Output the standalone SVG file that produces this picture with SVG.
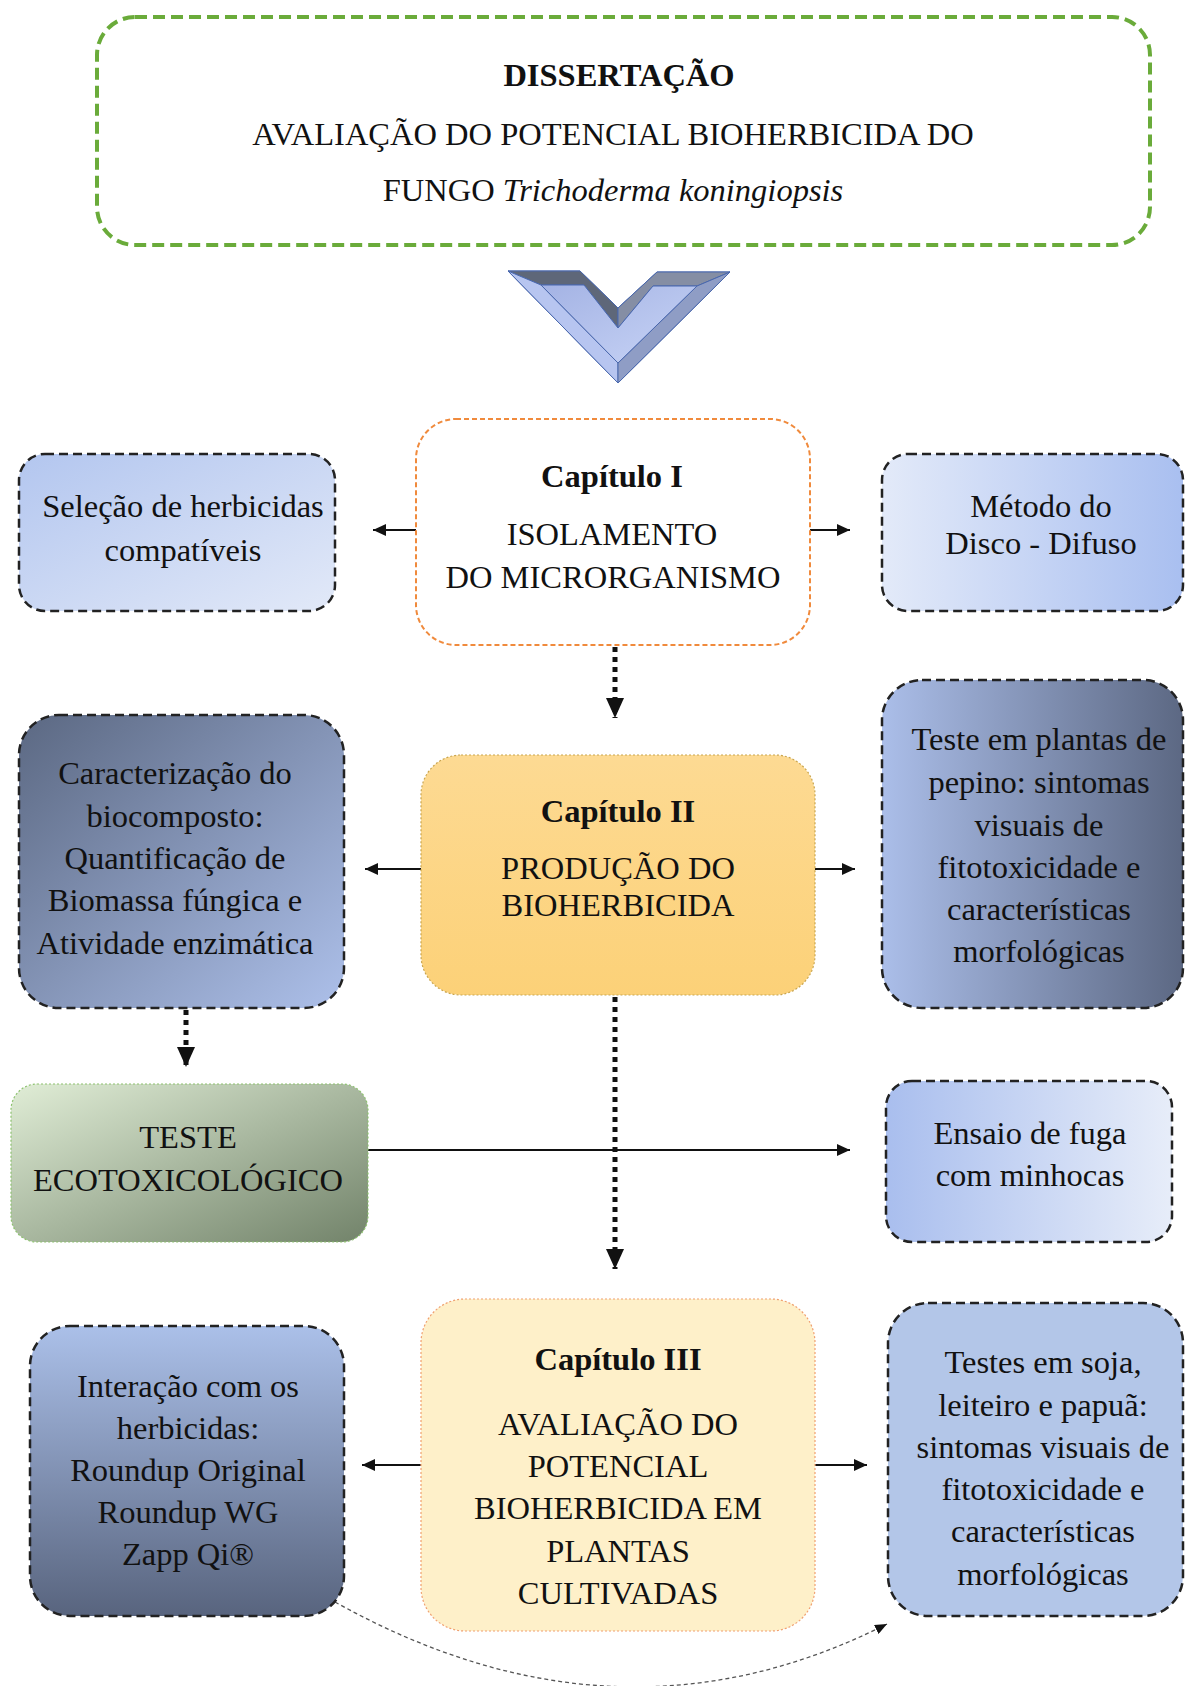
<svg xmlns="http://www.w3.org/2000/svg" width="1185" height="1686" viewBox="0 0 1185 1686">
<style>
text{font-family:"Liberation Serif","Times New Roman",serif;font-size:32.5px;fill:#111;text-anchor:middle}
.b{font-weight:bold}
.dash{stroke:#222;stroke-width:2.5;stroke-dasharray:9 5}
.solid{stroke:#111;stroke-width:2;fill:none}
.dot{stroke:#111;stroke-width:5;stroke-dasharray:5 5;fill:none}
</style>
<defs>
<linearGradient id="gSel" x1="0" y1="0" x2="1" y2="1"><stop offset="0" stop-color="#b3c6ef"/><stop offset="1" stop-color="#e2e9f8"/></linearGradient>
<linearGradient id="gMet" x1="0" y1="0" x2="1" y2="0"><stop offset="0" stop-color="#e3eaf9"/><stop offset="1" stop-color="#a9bff0"/></linearGradient>
<linearGradient id="gCar" x1="0" y1="0" x2="1" y2="1"><stop offset="0" stop-color="#5b6882"/><stop offset="1" stop-color="#adc0ea"/></linearGradient>
<linearGradient id="gPep" x1="0" y1="0" x2="1" y2="0"><stop offset="0" stop-color="#abbee9"/><stop offset="1" stop-color="#5c6883"/></linearGradient>
<linearGradient id="gCap2" x1="0" y1="0" x2="0" y2="1"><stop offset="0" stop-color="#fdda93"/><stop offset="1" stop-color="#fcd178"/></linearGradient>
<linearGradient id="gEco" x1="0" y1="0" x2="1" y2="1"><stop offset="0" stop-color="#e0edd6"/><stop offset="1" stop-color="#72836a"/></linearGradient>
<linearGradient id="gEns" x1="0" y1="0" x2="1" y2="0"><stop offset="0" stop-color="#a9beee"/><stop offset="1" stop-color="#e7edf9"/></linearGradient>
<linearGradient id="gInt" x1="0" y1="0" x2="0" y2="1"><stop offset="0" stop-color="#abc0e9"/><stop offset="1" stop-color="#58647e"/></linearGradient>
<linearGradient id="gFace" x1="0" y1="0" x2="1" y2="1"><stop offset="0" stop-color="#a4b3e4"/><stop offset="1" stop-color="#c8d4f6"/></linearGradient>
<marker id="ah" markerUnits="userSpaceOnUse" markerWidth="13" markerHeight="12" refX="13" refY="6" orient="auto"><path d="M0,0 L13,6 L0,12 z" fill="#111"/></marker>
<marker id="ahBig" markerUnits="userSpaceOnUse" markerWidth="20" markerHeight="18" refX="20" refY="9" orient="auto"><path d="M0,0 L20,9 L0,18 z" fill="#111"/></marker>
<marker id="ahSm" markerUnits="userSpaceOnUse" markerWidth="12" markerHeight="10" refX="12" refY="5" orient="auto"><path d="M0,0 L12,5 L0,10 z" fill="#111"/></marker>
</defs>

<g id="connectors">
<line class="solid" x1="416" y1="530" x2="373" y2="530" marker-end="url(#ah)"/>
<line class="solid" x1="810" y1="530" x2="850" y2="530" marker-end="url(#ah)"/>
<line class="dot" x1="615" y1="647" x2="615" y2="718" marker-end="url(#ahBig)"/>
<line class="solid" x1="421" y1="869" x2="365" y2="869" marker-end="url(#ah)"/>
<line class="solid" x1="815" y1="869" x2="855" y2="869" marker-end="url(#ah)"/>
<line class="dot" x1="186" y1="1010" x2="186" y2="1067" marker-end="url(#ahBig)"/>
<line class="solid" x1="368" y1="1150" x2="850" y2="1150" marker-end="url(#ah)"/>
<line class="dot" x1="615" y1="997" x2="615" y2="1269" marker-end="url(#ahBig)"/>
<line class="solid" x1="421" y1="1465" x2="362" y2="1465" marker-end="url(#ah)"/>
<line class="solid" x1="815" y1="1465" x2="867" y2="1465" marker-end="url(#ah)"/>
<path d="M335,1602 Q618,1760 887,1624" fill="none" stroke="#555" stroke-width="1.3" stroke-dasharray="4 3" marker-end="url(#ahSm)"/>
</g>

<g id="dissertacao">
<rect x="97" y="17" width="1053" height="228" rx="38" fill="#fff" stroke="#6aab3a" stroke-width="4" stroke-dasharray="12 6"/>
<text class="b" x="619" y="86">DISSERTAÇÃO</text>
<text x="613" y="145">AVALIAÇÃO DO POTENCIAL BIOHERBICIDA DO</text>
<text x="613" y="201">FUNGO <tspan font-style="italic">Trichoderma koningiopsis</tspan></text>
</g>

<g id="chevron" stroke="#4a68ad" stroke-width="1" stroke-linejoin="round">
<polygon points="508,271 580,271 618,308 657,272 730,272 618,383" fill="#8d9bc6"/>
<polygon points="508,271 580,271 618,308 618,328 584,285 541,285" fill="#5e6779"/>
<polygon points="618,308 657,272 730,272 697,286 653,286 618,328" fill="#858ea4"/>
<polygon points="508,271 541,285 618,363 618,383" fill="#b7c5f0"/>
<polygon points="730,272 697,286 618,363 618,383" fill="#8f9dc5"/>
<polygon points="541,285 584,285 618,328 653,286 697,286 618,363" fill="url(#gFace)"/>
</g>

<g id="cap1">
<rect x="416" y="419" width="394" height="226" rx="40" fill="#fff" stroke="#f08a3c" stroke-width="2" stroke-dasharray="5 3"/>
<text class="b" x="612" y="487">Capítulo I</text>
<text x="612" y="545">ISOLAMENTO</text>
<text x="613" y="588">DO MICRORGANISMO</text>
</g>

<g id="selecao">
<rect x="19" y="454" width="316" height="157" rx="26" fill="url(#gSel)" class="dash"/>
<text x="183" y="517">Seleção de herbicidas</text>
<text x="183" y="561">compatíveis</text>
</g>

<g id="metodo">
<rect x="882" y="454" width="301" height="157" rx="26" fill="url(#gMet)" class="dash"/>
<text x="1041" y="517">Método do</text>
<text x="1041" y="554">Disco - Difuso</text>
</g>

<g id="caracterizacao">
<rect x="19" y="715" width="325" height="293" rx="40" fill="url(#gCar)" class="dash"/>
<text x="175" y="784">Caracterização do</text>
<text x="175" y="827">biocomposto:</text>
<text x="175" y="869">Quantificação de</text>
<text x="175" y="911">Biomassa fúngica e</text>
<text x="175" y="954">Atividade enzimática</text>
</g>

<g id="cap2">
<rect x="421" y="755" width="394" height="240" rx="40" fill="url(#gCap2)" stroke="#c9a54e" stroke-width="1.2" stroke-dasharray="2 2"/>
<text class="b" x="618" y="822">Capítulo II</text>
<text x="618" y="879">PRODUÇÃO DO</text>
<text x="618" y="916">BIOHERBICIDA</text>
</g>

<g id="pepino">
<rect x="882" y="680" width="301" height="328" rx="40" fill="url(#gPep)" class="dash"/>
<text x="1039" y="750">Teste em plantas de</text>
<text x="1039" y="793">pepino: sintomas</text>
<text x="1039" y="836">visuais de</text>
<text x="1039" y="878">fitotoxicidade e</text>
<text x="1039" y="920">características</text>
<text x="1039" y="962">morfológicas</text>
</g>

<g id="ecotox">
<rect x="11" y="1084" width="357" height="158" rx="26" fill="url(#gEco)" stroke="#8dc26f" stroke-width="1.2" stroke-dasharray="2 2"/>
<text x="188" y="1148">TESTE</text>
<text x="188" y="1191">ECOTOXICOLÓGICO</text>
</g>

<g id="ensaio">
<rect x="886" y="1081" width="286" height="161" rx="26" fill="url(#gEns)" class="dash"/>
<text x="1030" y="1144">Ensaio de fuga</text>
<text x="1030" y="1186">com minhocas</text>
</g>

<g id="cap3">
<rect x="421" y="1299" width="394" height="332" rx="44" fill="#fef0c9" stroke="#f0a070" stroke-width="1.2" stroke-dasharray="2 2"/>
<text class="b" x="618" y="1370">Capítulo III</text>
<text x="618" y="1435">AVALIAÇÃO DO</text>
<text x="618" y="1477">POTENCIAL</text>
<text x="618" y="1519">BIOHERBICIDA EM</text>
<text x="618" y="1562">PLANTAS</text>
<text x="618" y="1604">CULTIVADAS</text>
</g>

<g id="interacao">
<rect x="30" y="1326" width="314" height="290" rx="40" fill="url(#gInt)" class="dash"/>
<text x="188" y="1397">Interação com os</text>
<text x="188" y="1439">herbicidas:</text>
<text x="188" y="1481">Roundup Original</text>
<text x="188" y="1523">Roundup  WG</text>
<text x="188" y="1565">Zapp Qi®</text>
</g>

<g id="soja">
<rect x="888" y="1303" width="295" height="313" rx="40" fill="#b3c6e8" class="dash"/>
<text x="1043" y="1373">Testes em soja,</text>
<text x="1043" y="1416">leiteiro e papuã:</text>
<text x="1043" y="1458">sintomas visuais de</text>
<text x="1043" y="1500">fitotoxicidade e</text>
<text x="1043" y="1542">características</text>
<text x="1043" y="1585">morfológicas</text>
</g>
</svg>
